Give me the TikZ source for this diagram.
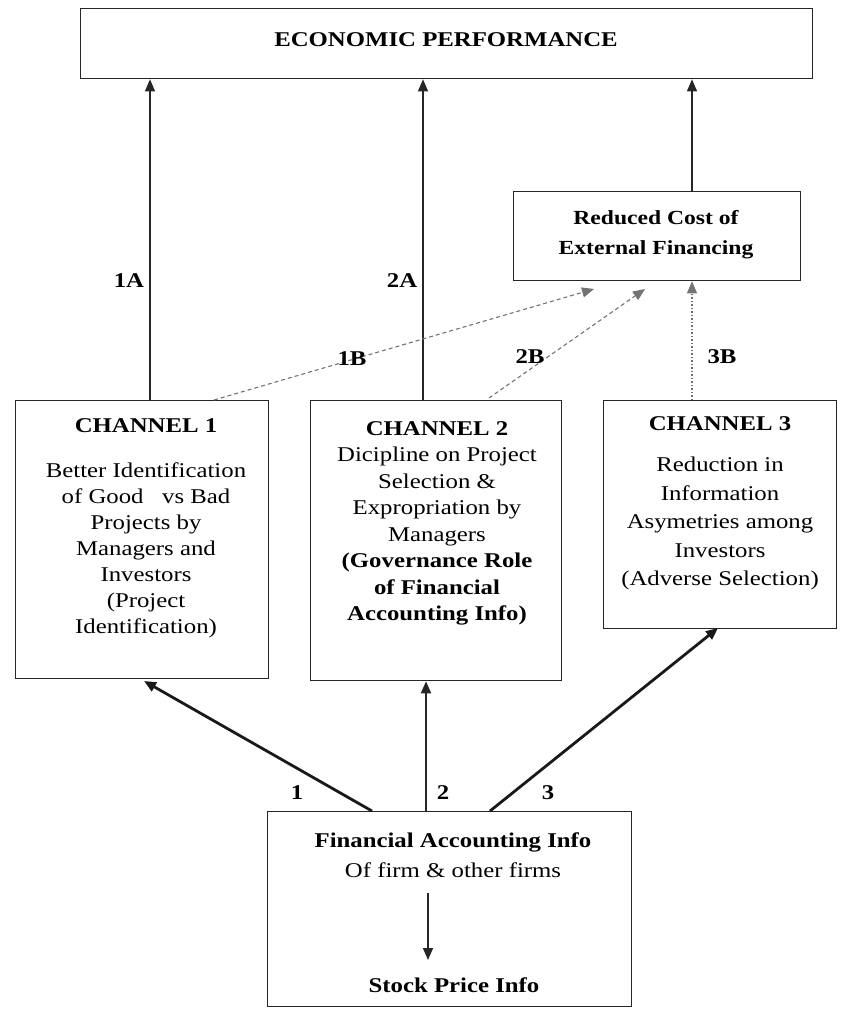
\documentclass[tikz,border=0pt]{standalone}
\usepackage{fontspec}
\setmainfont{Liberation Serif}[FakeStretch=1.18]
\usetikzlibrary{arrows.meta}
\begin{document}
\begin{tikzpicture}[x=1pt,y=-1pt,
  box/.style={draw=black!85, line width=1.3pt, anchor=north west, inner sep=0},
  txt/.style={align=center, font=\fontsize{21}{26}\selectfont, inner sep=0, anchor=north},
  lbl/.style={font=\bfseries\fontsize{21}{24}\selectfont, inner sep=0},
  tip/.style={-{Triangle[length=12pt,width=10pt]}},
  arr/.style={tip, line width=1.2pt, draw=black!85},
  thick arr/.style={tip, line width=2.8pt, draw=black!90},
  dash arr/.style={tip, line width=1.1pt, draw=black!55, dash pattern=on 4pt off 3pt},
  dot arr/.style={tip, line width=1.1pt, draw=black!55, dash pattern=on 1.5pt off 2pt}]
\useasboundingbox[fill=white] (0,0) rectangle (845,1012);
% boxes
\node[box, minimum width=732pt, minimum height=70pt] (ep) at (80,8) {};
\node[font=\bfseries\fontsize{21}{24}\selectfont, inner sep=0] (eptxt) at (446,40) {ECONOMIC PERFORMANCE};
\node[box, minimum width=287pt, minimum height=89pt] (rc) at (513,191) {};
\node[txt, font=\bfseries\fontsize{20}{30}\selectfont] (rctxt) at (656,210) {Reduced Cost of\\External Financing};
\node[box, minimum width=253pt, minimum height=278pt] (ch1) at (15,400) {};
\node[txt] (ch1txt) at (146,418) {\textbf{CHANNEL 1}\\[19pt]Better Identification\\of Good \ \ vs Bad\\Projects by\\Managers and\\Investors\\(Project\\Identification)};
\node[box, minimum width=251pt, minimum height=280pt] (ch2) at (310,400) {};
\node[txt, font=\fontsize{21}{26.5}\selectfont] (ch2txt) at (437,421) {\textbf{CHANNEL 2}\\Dicipline on Project\\Selection \&\\Expropriation by\\Managers\\\textbf{(Governance Role}\\\textbf{of Financial}\\\textbf{Accounting Info)}};
\node[box, minimum width=233pt, minimum height=228pt] (ch3) at (603,400) {};
\node[txt, font=\fontsize{21}{28.5}\selectfont] (ch3txt) at (720,416) {\textbf{CHANNEL 3}\\[13pt]Reduction in\\Information\\Asymetries among\\Investors\\(Adverse Selection)};
\node[box, minimum width=364pt, minimum height=195pt] (fa) at (267,811) {};
\node[txt, font=\fontsize{21}{30}\selectfont] (fatxt) at (453,833) {\textbf{Financial Accounting Info}\\Of firm \& other firms};
\node[txt, font=\bfseries\fontsize{21}{26}\selectfont] (sp) at (454,978) {Stock Price Info};
\coordinate (spa) at (428,893);
\coordinate (spb) at (428,960);
% arrows to top
\draw[arr] (ch1.north -| 150,0) -- (ep.south -| 150,0);
\draw[arr] (ch2.north -| 423,0) -- (ep.south -| 423,0);
\draw[arr] (rc.north -| 692,0) -- (ep.south -| 692,0);
\node[lbl] (l1a) at (129,281) {1A};
\node[lbl] (l2a) at (402,281) {2A};
% B arrows
\coordinate (b1s) at (214,400);
\coordinate (b1e) at (594,289);
\coordinate (b2s) at (489,398);
\coordinate (b2e) at (645,289);
\draw[dash arr] (b1s) -- (b1e);
\draw[dash arr] (b2s) -- (b2e);
\draw[dot arr] (ch3.north -| 692,0) -- (rc.south -| 692,0);
\node[lbl] (l1b) at (352,359) {1B};
\node[lbl] (l2b) at (530,357) {2B};
\node[lbl] (l3b) at (722,357) {3B};
% bottom arrows
\coordinate (f1) at (372,811);
\coordinate (f3) at (490,811);
\coordinate (t1) at (144,681);
\coordinate (t3) at (718,628);
\draw[thick arr] (f1) -- (t1);
\draw[arr, line width=1.8pt] (fa.north -| 426,0) -- (ch2.south -| 426,0);
\draw[thick arr] (f3) -- (t3);
\node[lbl] (n1) at (297,793) {1};
\node[lbl] (n2) at (443,793) {2};
\node[lbl] (n3) at (548,793) {3};
\draw[arr, line width=1.6pt] (spa) -- (spb);
\end{tikzpicture}
\end{document}
